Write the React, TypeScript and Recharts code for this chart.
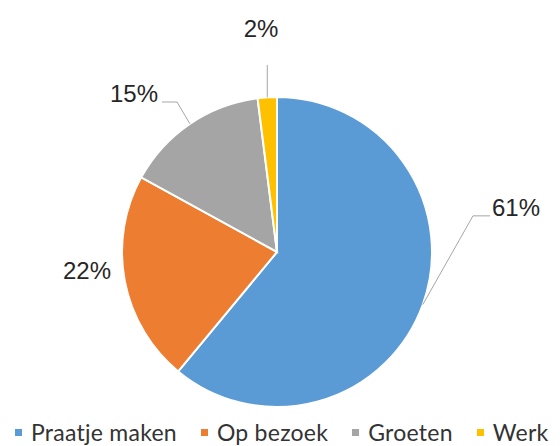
import React from 'react';
import { PieChart, Pie, Cell, Legend } from 'recharts';

const categories = ['Praatje maken', 'Op bezoek', 'Groeten', 'Werk'];
const shares = [61, 22, 15, 2];
const colors = ['#5B9BD5', '#ED7D31', '#A5A5A5', '#FFC000'];

const data = categories.map((name, i) => ({ name, value: shares[i] }));

// where each percentage label sits, relative to the pie (angle in degrees, distance in radii)
const labelLayout = [
  { angle: 11.6, dist: 1.416, anchor: 'start', leader: 'right' },
  { angle: 185.7, dist: 1.232, anchor: 'middle', leader: 'none' },
  { angle: 126.8, dist: 1.281, anchor: 'end', leader: 'left' },
  { angle: 94.1, dist: 1.443, anchor: 'middle', leader: 'up' },
];

const RAD = Math.PI / 180;

function renderLabel(props: any) {
  const { cx, cy, midAngle, outerRadius, index, value } = props;
  const layout = labelLayout[index];
  const lx = cx + Math.cos(layout.angle * RAD) * layout.dist * outerRadius;
  const ly = cy - Math.sin(layout.angle * RAD) * layout.dist * outerRadius;
  const ex = cx + Math.cos(midAngle * RAD) * outerRadius;
  const ey = cy - Math.sin(midAngle * RAD) * outerRadius;

  let points = '';
  if (layout.leader === 'right') {
    points = `${ex},${ey} ${lx - 19},${ly + 8} ${lx - 2},${ly + 8}`;
  } else if (layout.leader === 'left') {
    points = `${ex},${ey} ${lx + 19},${ly + 9} ${lx + 4},${ly + 9}`;
  } else if (layout.leader === 'up') {
    points = `${ex},${ey} ${ex},${ly + 36}`;
  }

  return (
    <g key={`label-${index}`}>
      {points && <polyline points={points} fill="none" stroke="#a6a6a6" strokeWidth={1} />}
      <text
        x={lx}
        y={ly}
        textAnchor={layout.anchor as any}
        dominantBaseline="central"
        fill="#262626"
        fontSize={24}
        fontFamily="'Liberation Sans', Arial, sans-serif"
      >
        {`${value}%`}
      </text>
    </g>
  );
}

function renderLegend() {
  return (
    <div
      style={{
        display: 'flex',
        alignItems: 'center',
        paddingLeft: 15,
        fontFamily: 'Lato, sans-serif',
        fontSize: 23,
        lineHeight: '28px',
        letterSpacing: 0.25,
        color: '#333333',
        whiteSpace: 'nowrap',
      }}
    >
      {categories.map((name, i) => (
        <div key={name} style={{ display: 'flex', alignItems: 'center', marginRight: 24 }}>
          <span style={{ width: 7, height: 7, background: colors[i], marginRight: 9 }} />
          <span>{name}</span>
        </div>
      ))}
    </div>
  );
}

export default function App() {
  return (
    <div style={{ position: 'absolute', left: 0, top: 0, width: 560, height: 446, background: '#fff', overflow: 'hidden' }}>
      <PieChart width={560} height={446}>
        <Pie
          data={data}
          dataKey="value"
          nameKey="name"
          cx={272}
          cy={247}
          outerRadius={155}
          startAngle={90}
          endAngle={-270}
          stroke="#ffffff"
          strokeWidth={2}
          label={renderLabel}
          labelLine={false}
          isAnimationActive={false}
        >
          {data.map((d, i) => (
            <Cell key={d.name} fill={colors[i]} />
          ))}
        </Pie>
        <Legend
          content={renderLegend}
          wrapperStyle={{ position: 'absolute', top: 418, left: 0, width: 560 }}
        />
      </PieChart>
    </div>
  );
}
